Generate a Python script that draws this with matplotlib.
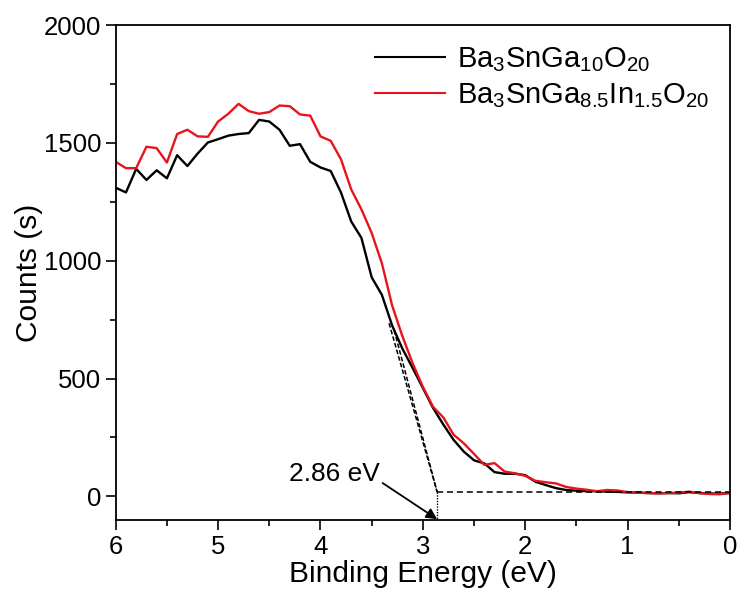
import matplotlib
matplotlib.use("Agg")
import matplotlib.pyplot as plt
import numpy as np
from matplotlib.ticker import MultipleLocator

plt.rcParams["font.family"] = ["Liberation Sans", "DejaVu Sans"]
plt.rcParams["mathtext.fontset"] = "custom"
plt.rcParams["mathtext.rm"] = "Liberation Sans"
plt.rcParams["mathtext.it"] = "Liberation Sans"
plt.rcParams["mathtext.default"] = "regular"

# Binding energy grid (eV), 6.0 -> 0.0 in 0.1 steps
energy = np.round(np.arange(6.0, -0.05, -0.1), 2)

ba3snga10 = [
    1310, 1290, 1390, 1343, 1384, 1350, 1448, 1402, 1455, 1502,
    1516, 1531, 1538, 1542, 1598, 1591, 1556, 1488, 1495, 1420,
    1396, 1381, 1290, 1167, 1097, 930, 855, 725, 627, 545,
    460, 375, 305, 240, 190, 153, 140, 103, 96, 96,
    90, 62, 48, 35, 27, 24, 22, 22, 20, 19,
    17, 16, 14, 13, 14, 13, 18, 14, 12, 12,
    14,
]
ba3snga85in15 = [
    1420, 1393, 1393, 1484, 1478, 1417, 1538, 1556, 1528, 1526,
    1591, 1624, 1666, 1635, 1624, 1631, 1659, 1656, 1621, 1616,
    1528, 1509, 1431, 1303, 1218, 1118, 989, 810, 680, 565,
    465, 380, 335, 262, 225, 180, 134, 141, 105, 98,
    87, 66, 60, 55, 40, 33, 28, 22, 27, 25,
    18, 16, 14, 13, 14, 16, 20, 14, 10, 9,
    14,
]

labels = [r"Ba$_3$SnGa$_{10}$O$_{20}$", r"Ba$_3$SnGa$_{8.5}$In$_{1.5}$O$_{20}$"]

# onset construction: two tangents meeting the baseline at 2.86 eV
onset = 2.86
baseline = 18
tangent1 = [(3.33, 735), (onset, baseline)]
tangent2 = [(3.28, 705), (onset, baseline)]

fig = plt.figure(figsize=(7.39, 5.99), dpi=100)
ax = fig.add_axes([0.1566, 0.132, 0.8312, 0.826])

ax.plot(energy, ba3snga10, color="black", lw=1.7, label=labels[0])
ax.plot(energy, ba3snga85in15, color="#e8141c", lw=1.7, label=labels[1])

for seg in (tangent1, tangent2):
    xs, ys = zip(*seg)
    ax.plot(xs, ys, color="black", lw=1.1, ls=(0, (3, 1.5)))
ax.plot([onset, 0], [baseline, baseline], color="black", lw=1.1, ls=(0, (4, 2.5)))
ax.plot([onset, onset], [baseline, -100], color="black", lw=1.0, ls=(0, (1, 1)))

ax.annotate("2.86 eV", xy=(onset, -97), xytext=(3.42, 95),
            fontsize=19, ha="right", va="center",
            arrowprops=dict(arrowstyle="-|>", color="black", lw=1.3,
                            mutation_scale=16, shrinkA=0, shrinkB=0,
                            relpos=(1.0, 0.2)))

ax.set_xlim(6, 0)
ax.set_ylim(-100, 2000)
ax.xaxis.set_major_locator(MultipleLocator(1))
ax.xaxis.set_minor_locator(MultipleLocator(0.5))
ax.yaxis.set_major_locator(MultipleLocator(500))
ax.yaxis.set_minor_locator(MultipleLocator(250))
ax.tick_params(which="both", direction="out", width=1.2, labelsize=18.5,
               top=False, right=False)
ax.tick_params(which="major", length=7)
ax.tick_params(which="minor", length=4)
for sp in ax.spines.values():
    sp.set_linewidth(1.3)

ax.set_xlabel("Binding Energy (eV)", fontsize=21.5, labelpad=1)
ax.set_ylabel("Counts (s)", fontsize=21.5, labelpad=0.5)

leg = ax.legend(loc="upper right", frameon=False, fontsize=21,
                handlelength=2.4, handletextpad=0.4, labelspacing=0.25,
                borderaxespad=0.3)
for line in leg.get_lines():
    line.set_linewidth(1.5)

fig.savefig("out.png", dpi=100)
